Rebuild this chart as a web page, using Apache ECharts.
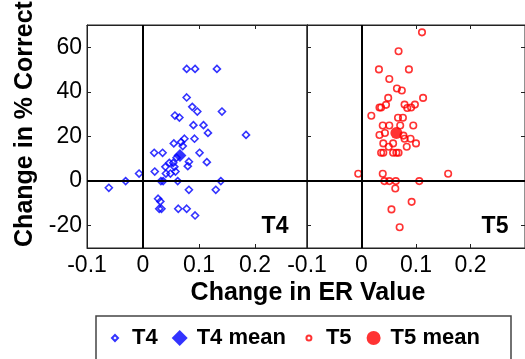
<!DOCTYPE html>
<html>
<head>
<meta charset="utf-8">
<script src="https://cdn.jsdelivr.net/npm/echarts@6/dist/echarts.min.js"></script>
<style>
  html, body { margin: 0; padding: 0; background: #fff; }
  #chart { width: 525px; height: 359px; }
</style>
</head>
<body>
<div id="chart"></div>
<script>
// Per-subject change in ER value vs change in % correct, two conditions
const t4X = [0.078,0.093,0.132,0.078,0.088,0.097,0.141,0.057,0.065,0.090,0.108,0.116,0.184,
  0.074,0.092,0.068,0.055,0.071,0.020,0.035,0.101,0.060,0.082,0.114,0.047,0.054,0.040,0.056,
  0.080,0.021,0.041,0.049,0.058,-0.007,-0.031,-0.061,0.032,0.036,0.062,0.139,0.082,0.130,
  0.027,0.031,0.029,0.033,0.063,0.078,0.093];
const t4Y = [50.3,50.3,50.3,37.5,33.3,31.2,31.2,29.4,28.5,25.1,25.1,21.6,20.7,
  19.0,19.0,17.5,16.9,15.7,12.7,12.7,12.7,10.5,8.7,8.5,8.2,8.2,6.4,6.4,
  6.7,4.3,3.4,3.4,4.3,3.4,0,-3.0,0,0,0,0,-3.9,-3.9,
  -7.9,-9.1,-12.4,-12.4,-12.4,-12.4,-15.4];
const t4Mean = [0.066, 11.5];

const t5X = [0.111,0.068,0.032,0.087,0.051,0.065,0.074,0.049,0.113,0.045,0.033,0.036,0.079,
  0.084,0.091,0.098,0.018,0.067,0.076,0.039,0.051,0.071,0.095,0.043,0.033,0.077,0.079,0.090,
  0.040,0.058,0.100,0.050,0.083,0.036,0.040,0.058,0.064,0.068,-0.006,0.039,0.159,0.042,
  0.051,0.063,0.106,0.062,0.092,0.055,0.070];
const t5Y = [66.7,58.2,50.1,50.1,45.8,41.5,40.6,37.3,37.3,34.2,33.0,33.0,34.3,
  32.8,33.0,34.3,29.3,28.4,28.4,24.9,24.9,24.9,24.9,21.6,20.7,20.4,19.0,19.0,
  16.9,16.9,16.9,15.4,15.4,12.7,12.7,12.7,12.7,12.7,3.3,3.3,3.3,0,
  0,0,0,-3.3,-9.3,-12.7,-20.7];
const t5Mean = [0.064, 21.6];

const xTicks = [-0.1, 0, 0.1, 0.2];
const yTicks = [-20, 0, 20, 40, 60];
const panelNames = ['T4', 'T5'];
const seriesNames = ['T4', 'T4 mean', 'T5', 'T5 mean'];

const FONT = '"Liberation Sans", Arial, sans-serif';
const BLUE = '#0000ff';
const RED = '#ff0000';
const INK = '#222';

const pairs = (xs, ys) => xs.map((x, i) => [x, ys[i]]);
const fmt = v => String(+(+v).toFixed(1));

function axisLineOpt() {
  return { show: true, onZero: false, lineStyle: { color: INK, width: 1 } };
}
function tickOpt(show, values) {
  return { show: show, inside: true, length: 4, customValues: values,
    lineStyle: { color: INK, width: 1 } };
}

function xAxisPair(grid, max) {
  return [
    {
      type: 'value', gridIndex: grid, position: 'bottom', min: -0.1, max: max,
      axisLine: axisLineOpt(),
      axisTick: tickOpt(true, xTicks),
      axisLabel: { show: true, customValues: xTicks, formatter: fmt, margin: 6,
        color: '#000', fontFamily: FONT, fontSize: 23 },
      splitLine: { show: false }
    },
    {
      type: 'value', gridIndex: grid, position: 'top', min: -0.1, max: max,
      axisLine: axisLineOpt(),
      axisTick: tickOpt(true, xTicks),
      axisLabel: { show: false },
      splitLine: { show: false }
    }
  ];
}

function yAxisPair(grid, withLabels, rightTicks) {
  return [
    {
      type: 'value', gridIndex: grid, position: 'left', min: -30, max: 70,
      axisLine: axisLineOpt(),
      axisTick: tickOpt(true, yTicks),
      axisLabel: { show: withLabels, customValues: yTicks, margin: 5,
        color: '#000', fontFamily: FONT, fontSize: 23 },
      splitLine: { show: false }
    },
    {
      type: 'value', gridIndex: grid, position: 'right', min: -30, max: 70,
      axisLine: axisLineOpt(),
      axisTick: tickOpt(rightTicks, yTicks),
      axisLabel: { show: false },
      splitLine: { show: false }
    }
  ];
}

const zeroLines = {
  silent: true,
  symbol: 'none',
  label: { show: false },
  lineStyle: { color: '#000', width: 2, type: 'solid' },
  emphasis: { disabled: true },
  data: [{ xAxis: 0 }, { yAxis: 0 }]
};

const icons = {
  'T4': 'path://M0,0M24,16M12,5L15,8L12,11L9,8Z',
  'T4 mean': 'path://M0,0M24,16M12,0L20,8L12,16L4,8Z',
  'T5': 'path://M0,0M24,16M14.5,8A2.5,2.5,0,1,1,9.5,8A2.5,2.5,0,1,1,14.5,8Z',
  'T5 mean': 'path://M0,0M24,16M19,8A7,7,0,1,1,5,8A7,7,0,1,1,19,8Z'
};

const option = {
  animation: false,
  backgroundColor: '#fff',
  grid: [
    { left: 87, top: 25, width: 220, height: 223, show: true,
      borderColor: INK, borderWidth: 1, backgroundColor: 'transparent' },
    { left: 307, top: 25, width: 224, height: 223, show: true,
      borderColor: INK, borderWidth: 1, backgroundColor: 'transparent' }
  ],
  xAxis: [...xAxisPair(0, 0.2929), ...xAxisPair(1, 0.3)],
  yAxis: [...yAxisPair(0, true, false), ...yAxisPair(1, false, true)],
  legend: {
    left: 102, top: 327,
    orient: 'horizontal',
    itemWidth: 24, itemHeight: 16, itemGap: 10,
    padding: 0,
    selectedMode: false,
    textStyle: { color: '#000', fontFamily: FONT, fontSize: 22, fontWeight: 'bold', lineHeight: 22 },
    data: seriesNames.map(n => ({ name: n, icon: icons[n] }))
  },
  series: [
    {
      name: seriesNames[0], type: 'scatter', xAxisIndex: 0, yAxisIndex: 0,
      symbol: 'diamond', symbolSize: 7,
      itemStyle: { color: 'rgba(0,0,0,0)', borderColor: BLUE, borderWidth: 1.6 },
      data: pairs(t4X, t4Y),
      markLine: zeroLines, z: 3
    },
    {
      name: seriesNames[1], type: 'scatter', xAxisIndex: 0, yAxisIndex: 0,
      symbol: 'diamond', symbolSize: 13,
      itemStyle: { color: BLUE },
      data: [t4Mean], z: 4
    },
    {
      name: seriesNames[2], type: 'scatter', xAxisIndex: 2, yAxisIndex: 2,
      symbol: 'circle', symbolSize: 6.5,
      itemStyle: { color: 'rgba(0,0,0,0)', borderColor: RED, borderWidth: 1.6 },
      data: pairs(t5X, t5Y),
      markLine: zeroLines, z: 3
    },
    {
      name: seriesNames[3], type: 'scatter', xAxisIndex: 2, yAxisIndex: 2,
      symbol: 'circle', symbolSize: 12,
      itemStyle: { color: RED },
      data: [t5Mean], z: 4
    }
  ],
  graphic: [
    {
      type: 'text', x: 308, y: 293,
      style: { text: 'Change in ER Value', fill: '#000', font: 'bold 25px ' + FONT,
        align: 'center', verticalAlign: 'middle' }
    },
    {
      type: 'text', x: 25, y: 124, rotation: Math.PI / 2,
      style: { text: 'Change in % Correct', fill: '#000', font: 'bold 25px ' + FONT,
        align: 'center', verticalAlign: 'middle' }
    },
    {
      type: 'text', x: 275, y: 227,
      style: { text: panelNames[0], fill: '#000', font: 'bold 23px ' + FONT,
        align: 'center', verticalAlign: 'middle' }
    },
    {
      type: 'text', x: 495, y: 227,
      style: { text: panelNames[1], fill: '#000', font: 'bold 23px ' + FONT,
        align: 'center', verticalAlign: 'middle' }
    },
    {
      type: 'rect', shape: { x: 96, y: 316, width: 415, height: 60 },
      style: { fill: 'none', stroke: '#444', lineWidth: 1.5 }
    }
  ]
};

const chart = echarts.init(document.getElementById('chart'), null, { renderer: 'canvas' });
chart.setOption(option);
</script>
</body>
</html>
